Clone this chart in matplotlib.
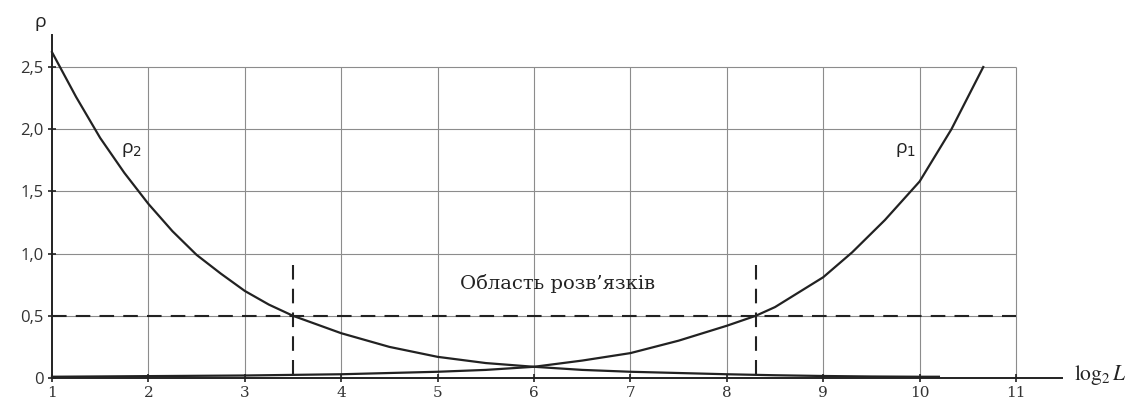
import matplotlib
matplotlib.use("Agg")
import matplotlib.pyplot as plt

# --- data ---
x_rho2 = [1, 1.25, 1.5, 1.75, 2, 2.25, 2.5, 2.75, 3, 3.25, 3.5, 4, 4.5, 5, 5.5, 6,
          6.5, 7, 7.5, 8, 8.5, 9, 9.5, 10, 10.2]
rho2 = [2.62, 2.26, 1.93, 1.65, 1.40, 1.18, 0.99, 0.84, 0.70, 0.59, 0.50, 0.36, 0.25,
        0.17, 0.12, 0.09, 0.065, 0.05, 0.04, 0.03, 0.022, 0.016, 0.012, 0.01, 0.01]

x_rho1 = [1, 2, 3, 4, 5, 5.5, 6, 6.5, 7, 7.5, 8, 8.3, 8.5, 9, 9.3, 9.64, 10, 10.33, 10.66]
rho1 = [0.01, 0.015, 0.02, 0.03, 0.05, 0.065, 0.09, 0.14, 0.2, 0.3, 0.42, 0.5, 0.57,
        0.81, 1.01, 1.27, 1.58, 2.0, 2.5]

x_ticks = [1, 2, 3, 4, 5, 6, 7, 8, 9, 10, 11]
y_ticks = [0, 0.5, 1.0, 1.5, 2.0, 2.5]
y_tick_labels = ["0", "0,5", "1,0", "1,5", "2,0", "2,5"]

rho_limit = 0.5          # horizontal dashed level
x_bounds = [3.5, 8.3]    # vertical dashed lines
region_label = "Область розв’язків"

dark = "#222222"
grid_col = "#8c8c8c"
dash = (0, (7, 4.4))

fig = plt.figure(figsize=(11.32, 4.0), dpi=100, facecolor="white")
ax = fig.add_axes([0, 0, 1, 1])
ax.set_xlim(0.461, 12.203)
ax.set_ylim(-0.177, 3.039)

# grid only inside the box 1..11 x 0..2.5
ax.vlines(x_ticks[1:], 0, y_ticks[-1], color=grid_col, lw=0.8, zorder=1)
ax.hlines(y_ticks[1:], x_ticks[0], x_ticks[-1], color=grid_col, lw=0.8, zorder=1)

# axes as spines through the origin
for side in ["top", "right"]:
    ax.spines[side].set_visible(False)
ax.spines["left"].set_position(("data", 1))
ax.spines["bottom"].set_position(("data", 0))
ax.spines["left"].set_bounds(0, 2.76)
ax.spines["bottom"].set_bounds(1, 11.48)
for side in ["left", "bottom"]:
    ax.spines[side].set_linewidth(1.4)
    ax.spines[side].set_color(dark)

ax.set_xticks(x_ticks)
ax.set_xticklabels([str(v) for v in x_ticks])
ax.set_yticks(y_ticks)
ax.set_yticklabels(y_tick_labels)
ax.tick_params(direction="inout", length=6, width=1.2, color=dark, labelcolor="#333333")
ax.tick_params(axis="x", pad=3, labelsize=11)
ax.tick_params(axis="y", pad=3, labelsize=12)
for lab in ax.get_xticklabels():
    lab.set_fontfamily("DejaVu Serif")
for lab in ax.get_yticklabels():
    lab.set_fontfamily("Open Sans")

# curves
ax.plot(x_rho2, rho2, color=dark, lw=1.6, zorder=3, clip_on=False)
ax.plot(x_rho1, rho1, color=dark, lw=1.6, zorder=3, clip_on=False)

# dashed bounds
ax.hlines(rho_limit, x_ticks[0], x_ticks[-1], color=dark, lw=1.5,
          linestyles=dash, zorder=2)
ax.vlines(x_bounds, 0.91, 0, color=dark, lw=1.5, linestyles=dash, zorder=2)

# labels
ax.text(6.24, 0.76, region_label, ha="center", va="center",
        fontsize=14, family="DejaVu Serif", color=dark)
ax.text(1.83, 1.83, "ρ$_2$", ha="center", va="center", fontsize=14,
        family="Open Sans", math_fontfamily="dejavusans", color=dark)
ax.text(9.86, 1.83, "ρ$_1$", ha="center", va="center", fontsize=14,
        family="Open Sans", math_fontfamily="dejavusans", color=dark)
ax.text(0.876, 2.86, "ρ", ha="center", va="center", fontsize=14,
        family="Open Sans", color=dark)

ax.text(11.6, 0.02, r"$\mathrm{log}_2\,L$", ha="left", va="center",
        fontsize=15.5, math_fontfamily="stix", color=dark)

fig.savefig("out.png", dpi=100, facecolor="white")
